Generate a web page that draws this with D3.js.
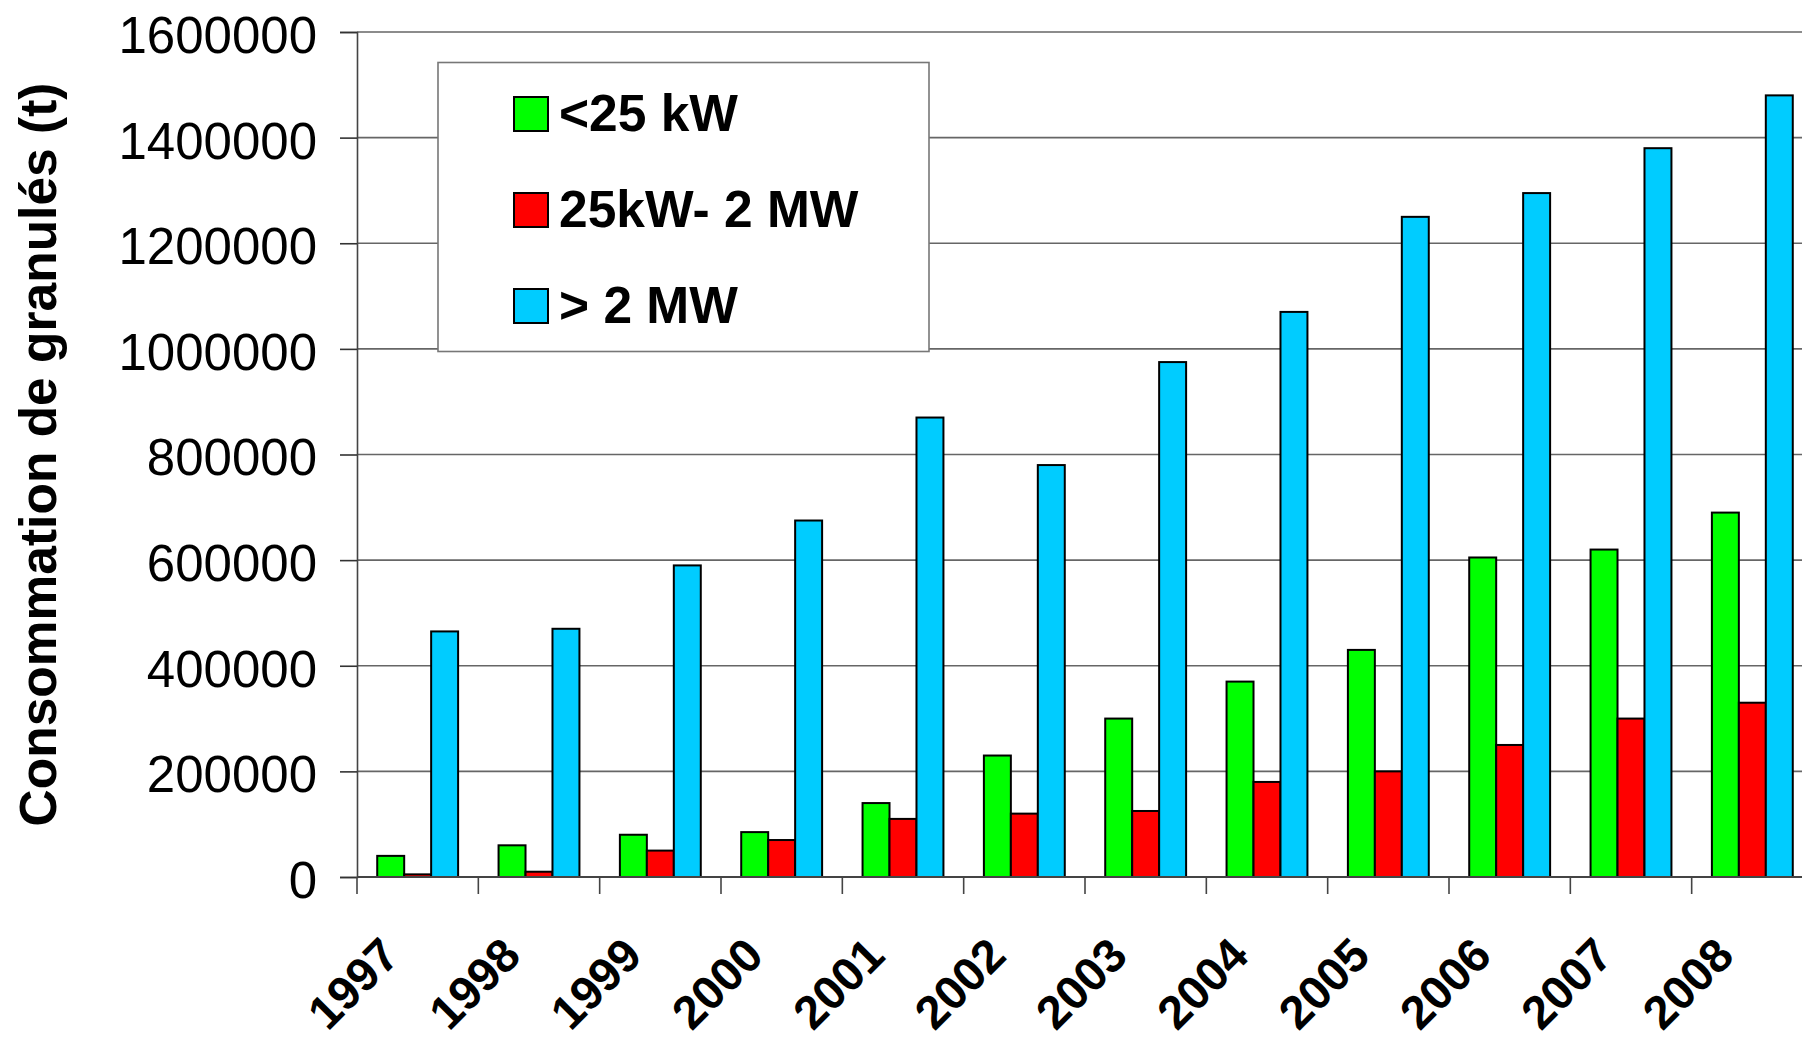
<!DOCTYPE html>
<html>
<head>
<meta charset="utf-8">
<script src="https://cdn.jsdelivr.net/npm/d3@7"></script>
<style>
  html, body { margin: 0; padding: 0; background: #fff; }
  svg { display: block; font-family: "Liberation Sans", Arial, sans-serif; }
</style>
</head>
<body>
<svg id="chart" width="1802" height="1041"></svg>
<script>
// Pellet consumption by installation size, 1997–2008
const years = ["1997","1998","1999","2000","2001","2002","2003","2004","2005","2006","2007","2008"];
const seriesNames = ["<25 kW", "25kW- 2 MW", "> 2 MW"];
const seriesColors = ["#00FF00", "#FF0000", "#00CCFF"];
const small = [40000, 60000, 80000, 85000, 140000, 230000, 300000, 370000, 430000, 605000, 620000, 690000];
const medium = [5000, 10000, 50000, 70000, 110000, 120000, 125000, 180000, 200000, 250000, 300000, 330000];
const large = [465000, 470000, 590000, 675000, 870000, 780000, 975000, 1070000, 1250000, 1295000, 1380000, 1480000];
const yTicks = [0, 200000, 400000, 600000, 800000, 1000000, 1200000, 1400000, 1600000];
const yTitle = "Consommation de granulés (t)";

const series = [small, medium, large];

const svg = d3.select("#chart");
const plotLeft = 357, plotRight = 1813, plotTop = 32, plotBottom = 877;

const x = d3.scaleBand().domain(years).range([plotLeft, plotRight]).padding(0);
const xs = d3.scaleBand().domain(d3.range(3))
  .range([x.bandwidth() / 6, x.bandwidth() * 5 / 6]).padding(0);
const y = d3.scaleLinear().domain([0, 1600000]).range([plotBottom, plotTop]);

// horizontal gridlines
svg.append("g")
  .selectAll("line")
  .data(yTicks.slice(1))
  .join("line")
  .attr("x1", plotLeft).attr("x2", plotRight)
  .attr("y1", d => y(d)).attr("y2", d => y(d))
  .attr("stroke", "#666").attr("stroke-width", 1.6);

// bars
const groups = svg.append("g")
  .selectAll("g")
  .data(years)
  .join("g")
  .attr("transform", d => `translate(${x(d)},0)`);

groups.selectAll("rect")
  .data((yr, i) => series.map((s, k) => ({ k, v: s[i] })))
  .join("rect")
  .attr("x", d => xs(d.k))
  .attr("width", xs.bandwidth())
  .attr("y", d => y(d.v))
  .attr("height", d => y(0) - y(d.v))
  .attr("fill", d => seriesColors[d.k])
  .attr("stroke", "#000")
  .attr("stroke-width", 2);

// y axis
const yAxis = svg.append("g")
  .attr("transform", `translate(${plotLeft},0)`)
  .call(d3.axisLeft(y).tickValues(yTicks).tickFormat(d3.format("d")).tickSize(17).tickPadding(23));
yAxis.select(".domain").attr("stroke", "#444").attr("stroke-width", 1.6);
yAxis.selectAll(".tick line").attr("stroke", "#333").attr("stroke-width", 1.6);
yAxis.selectAll(".tick text")
  .attr("font-size", 51).attr("fill", "#000").attr("dy", "0.4em")
  .style("font-family", "'Liberation Sans', Arial, sans-serif");

// x axis: baseline, boundary ticks, rotated year labels
const xAxis = svg.append("g").attr("transform", `translate(0,${plotBottom})`);
xAxis.append("line")
  .attr("x1", plotLeft).attr("x2", plotRight)
  .attr("stroke", "#444").attr("stroke-width", 2);
xAxis.selectAll("line.tk")
  .data(years)
  .join("line")
  .attr("class", "tk")
  .attr("x1", d => x(d)).attr("x2", d => x(d))
  .attr("y1", 0).attr("y2", 17)
  .attr("stroke", "#444").attr("stroke-width", 1.6);
xAxis.selectAll("text")
  .data(years)
  .join("text")
  .attr("transform", d => `translate(${x(d) + x.bandwidth() / 2 - 16},81) rotate(-45)`)
  .attr("text-anchor", "end")
  .attr("font-size", 47)
  .attr("font-weight", "bold")
  .text(d => d);

// y axis title
svg.append("text")
  .attr("transform", `translate(56,${(plotTop + plotBottom) / 2}) rotate(-90)`)
  .attr("text-anchor", "middle")
  .attr("font-size", 51.5)
  .attr("font-weight", "bold")
  .text(yTitle);

// legend
const legend = svg.append("g");
legend.append("rect")
  .attr("x", 438).attr("y", 62.5)
  .attr("width", 491).attr("height", 289)
  .attr("fill", "#fff").attr("stroke", "#777").attr("stroke-width", 1.6);
const items = legend.selectAll("g.item")
  .data(seriesNames)
  .join("g")
  .attr("class", "item")
  .attr("transform", (d, i) => `translate(0,${131 + i * 96})`);
items.append("rect")
  .attr("x", 514).attr("y", -34)
  .attr("width", 34).attr("height", 34)
  .attr("fill", (d, i) => seriesColors[i])
  .attr("stroke", "#000").attr("stroke-width", 2);
items.append("text")
  .attr("x", 559).attr("y", 0)
  .attr("font-size", 51.5)
  .attr("font-weight", "bold")
  .text(d => d);
</script>
</body>
</html>
